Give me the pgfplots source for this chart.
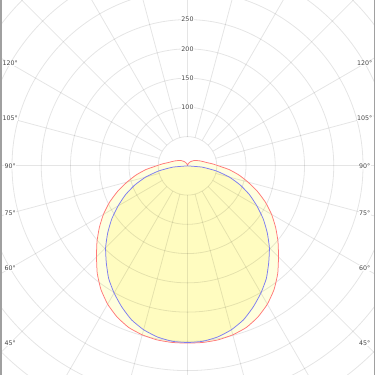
\documentclass[border=0pt]{standalone}
\usepackage{pgfplots}
\pgfplotsset{compat=1.18}
\usepackage{pgfplotstable}
\usepackage{fontspec}
\setmainfont{DejaVu Sans}
\definecolor{fillout}{RGB}{255,255,222}
\definecolor{fillin}{RGB}{255,252,192}
\definecolor{redc}{RGB}{255,120,120}
\definecolor{bluec}{RGB}{125,125,240}
\definecolor{labc}{RGB}{70,70,70}
\definecolor{framec}{RGB}{160,160,160}
\tikzset{
  lab/.style={font=\fontsize{6.3}{7}\selectfont, text=labc, fill=white, inner sep=0.4pt},
  gridline/.style={draw=black, opacity=0.1, line width=0.8pt},
}

\pgfplotstableread{
t I
-180 0
-170 2
-160 4
-150 7
-140 10
-130 14
-120 18
-115 21
-110 24
-105 28
-100 33
-95 42
-90 53
-85 71
-80 89
-75 107
-70 127
-65 147
-60 166
-55 184
-50 202
-45 220
-40 240
-35 258
-30 273
-25 285
-20 294
-15 299
-10 302
-5 303
0 303
5 303
10 302
15 299
20 294
25 285
30 273
35 258
40 240
45 220
50 202
55 184
60 166
65 147
70 127
75 107
80 89
85 71
90 53
95 42
100 33
105 28
110 24
115 21
120 18
130 14
140 10
150 7
160 4
170 2
180 0
}\redtab

\pgfplotstableread{
t I
-90 0
-85 25
-80 50
-75 74
-70 96
-65 117
-60 137
-55 158
-50 178
-45 198
-40 216
-35 235
-30 251
-25 266
-20 280
-15 290
-10 297
-5 301
0 302
5 301
10 297
15 290
20 280
25 266
30 251
35 235
40 216
45 198
50 178
55 158
60 137
65 117
70 96
75 74
80 50
85 25
90 0
}\bluetab

\begin{document}
\begin{tikzpicture}
\begin{axis}[
  width=375pt, height=375pt, scale only axis,
  xmin=-320.5, xmax=320.5, ymin=-357.5, ymax=283.5,
  hide axis, clip=true,
]
\addplot[fill=fillout, draw=none] table[x expr={\thisrow{I}*sin(\thisrow{t})}, y expr={-\thisrow{I}*cos(\thisrow{t})}] {\redtab};
\addplot[fill=fillin, draw=none] table[x expr={\thisrow{I}*sin(\thisrow{t})}, y expr={-\thisrow{I}*cos(\thisrow{t})}] {\bluetab};

\pgfplotsinvokeforeach{50,100,...,500}{
  \draw[gridline] (axis cs:0,0) circle[radius=#1];
}
\pgfplotsinvokeforeach{0,15,...,345}{
  \draw[gridline] (axis cs:{50*cos(#1)},{50*sin(#1)}) -- (axis cs:{560*cos(#1)},{560*sin(#1)});
}

\addplot[draw=redc, line width=0.75pt, smooth, tension=0.3] table[x expr={\thisrow{I}*sin(\thisrow{t})}, y expr={-\thisrow{I}*cos(\thisrow{t})}] {\redtab};
\addplot[draw=bluec, line width=0.75pt, smooth, tension=0.3] table[x expr={\thisrow{I}*sin(\thisrow{t})}, y expr={-\thisrow{I}*cos(\thisrow{t})}] {\bluetab};

\node[lab] at (axis cs:0,100) {100};
\node[lab] at (axis cs:0,150) {150};
\node[lab] at (axis cs:0,200) {200};
\node[lab] at (axis cs:0,250) {250};

\node[lab] at (axis cs:-303,175) {120°};
\node[lab] at (axis cs:-303,81) {105°};
\node[lab] at (axis cs:-303,0) {90°};
\node[lab] at (axis cs:-303,-81) {75°};
\node[lab] at (axis cs:-303,-175) {60°};
\node[lab] at (axis cs:-303,-303) {45°};
\node[lab] at (axis cs:303,175) {120°};
\node[lab] at (axis cs:303,81) {105°};
\node[lab] at (axis cs:303,0) {90°};
\node[lab] at (axis cs:303,-81) {75°};
\node[lab] at (axis cs:303,-175) {60°};
\node[lab] at (axis cs:303,-303) {45°};

\draw[framec, line width=3pt] (rel axis cs:0,0) -- (rel axis cs:0,1);
\draw[framec, line width=3pt] (rel axis cs:1,0) -- (rel axis cs:1,1);
\end{axis}
\end{tikzpicture}
\end{document}
